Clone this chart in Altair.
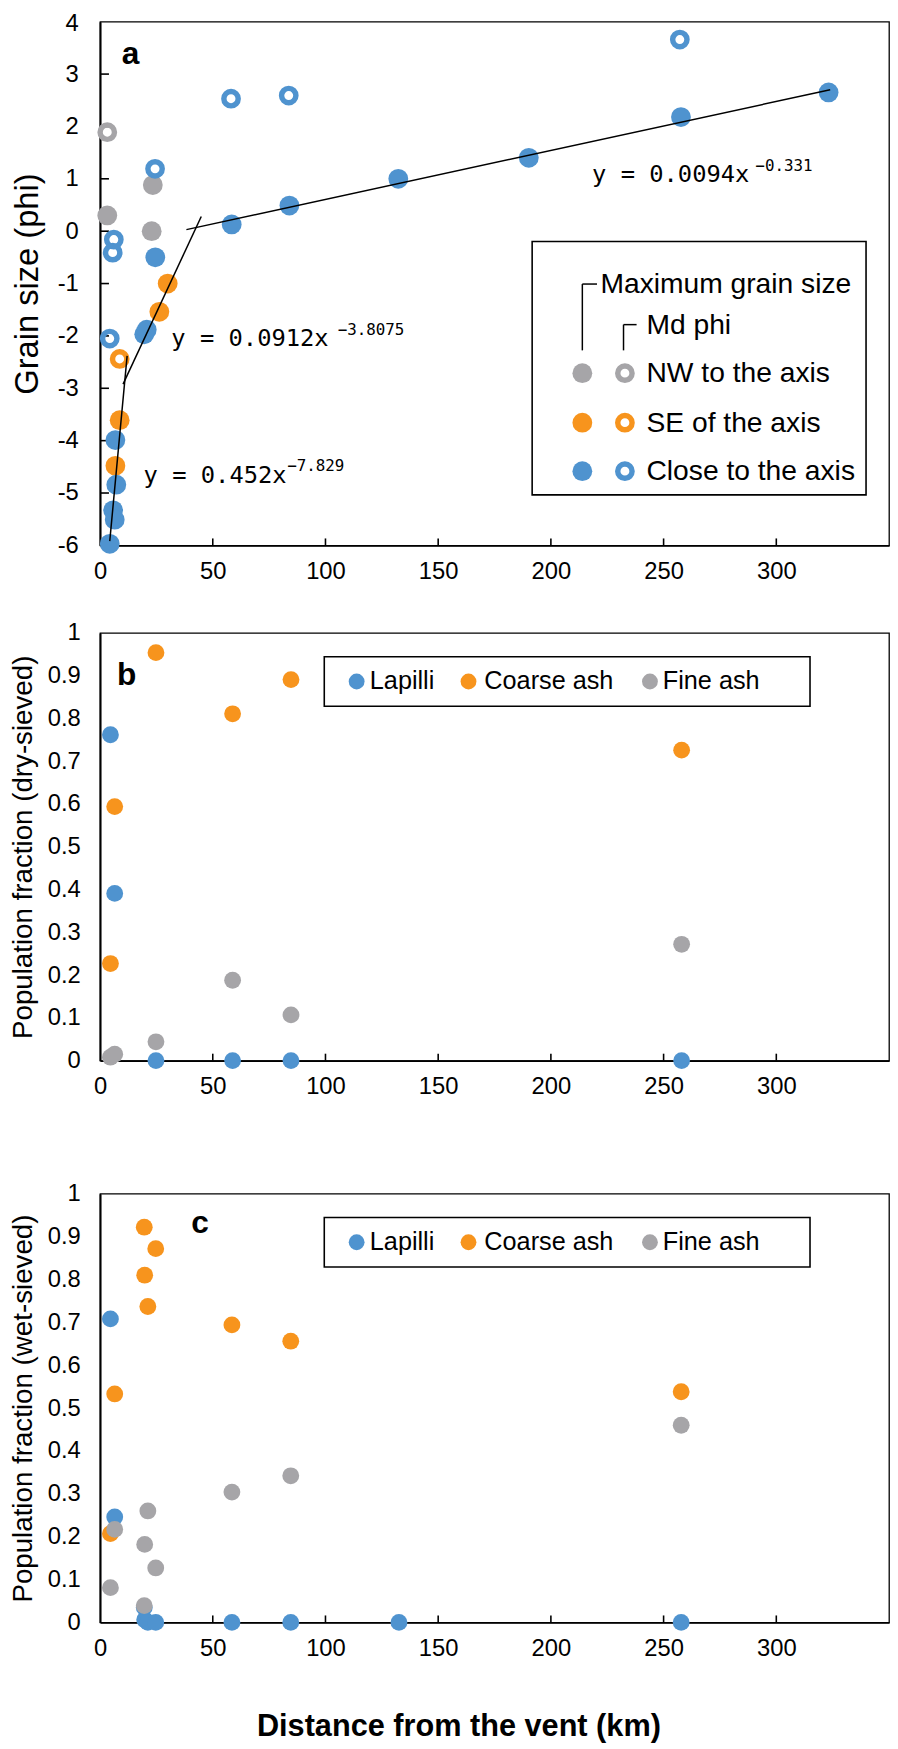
import altair as alt
import pandas as pd

# ---------------- data ----------------
# Panel a: maximum grain size (filled) and Md phi (open) vs distance (km)
max_nw_x = [3.2, 23.4, 22.9]
max_nw_y = [0.30, 0.88, 0.00]
max_se_x = [30.0, 26.3, 8.7, 6.8]
max_se_y = [-1.00, -1.54, -3.61, -4.48]
max_close_x = [24.5, 58.4, 84.0, 132.3, 190.2, 257.7, 323.2, 19.6, 20.7, 6.8, 7.2, 5.8, 6.5, 4.3]
max_close_y = [-0.50, 0.13, 0.49, 1.00, 1.40, 2.18, 2.65, -1.97, -1.88, -3.99, -4.84, -5.33, -5.51, -5.97]
md_nw_x = [3.2]
md_nw_y = [1.89]
md_se_x = [8.7]
md_se_y = [-2.44]
md_close_x = [58.1, 83.7, 24.4, 6.1, 5.6, 4.3, 257.2]
md_close_y = [2.53, 2.59, 1.19, -0.16, -0.41, -2.05, 3.66]

# Fitted trend segments (end points)
trend_seg = ["s1", "s1", "s2", "s2", "s3", "s3"]
trend_x = [4.3, 12.0, 10.2, 44.9, 38.3, 323.9]
trend_y = [-5.92, -2.38, -2.92, 0.28, 0.03, 2.70]

# Panel b: dry-sieved population fractions
b_x = [4.6, 6.5, 24.8, 58.8, 84.7, 258.0]
b_lapilli = [0.762, 0.391, 0.0, 0.0, 0.0, 0.0]
b_coarse = [0.227, 0.594, 0.954, 0.811, 0.891, 0.726]
b_fine = [0.008, 0.015, 0.044, 0.188, 0.107, 0.272]

# Panel c: wet-sieved population fractions
c_x = [4.6, 6.5, 19.6, 19.8, 21.2, 24.7, 58.5, 84.6, 132.6, 257.8]
c_lapilli = [0.708, 0.246, 0.035, 0.006, 0.0, 0.0, 0.0, 0.0, 0.0, 0.0]
c_coarse = [0.207, 0.533, 0.922, 0.810, 0.737, 0.872, 0.694, 0.656, None, 0.538]
c_fine = [0.081, 0.217, 0.039, 0.182, 0.260, 0.127, 0.304, 0.342, None, 0.460]

x_ticks = [0, 50, 100, 150, 200, 250, 300]
a_yticks = [-6, -5, -4, -3, -2, -1, 0, 1, 2, 3, 4]
frac_ticks = [0, 0.1, 0.2, 0.3, 0.4, 0.5, 0.6, 0.7, 0.8, 0.9, 1]

groups = ["NW to the axis", "SE of the axis", "Close to the axis"]
classes = ["Lapilli", "Coarse ash", "Fine ash"]

# ---------------- style ----------------
FONT = "Liberation Sans"
MONO = "DejaVu Sans Mono"
BLUE = "#4F93CF"
ORANGE = "#F7941D"
GREY = "#A6A5A8"
GROUP_COL = {groups[0]: GREY, groups[1]: ORANGE, groups[2]: BLUE}
CLASS_COL = {classes[0]: BLUE, classes[1]: ORANGE, classes[2]: GREY}
W = 797
HA, HB, HC = 529, 432, 433


def one():
    return alt.Chart(pd.DataFrame({"k": [0]}))


def txt(x, y, s, size, font=FONT, weight="normal", baseline="alphabetic"):
    return one().mark_text(text=s, fontSize=size, font=font, fontWeight=weight,
                           align="left", baseline=baseline, color="black").encode(
        x=alt.value(x), y=alt.value(y))


def seg(x1, y1, x2, y2, w=1.5):
    return one().mark_rule(color="black", strokeWidth=w).encode(
        x=alt.value(x1), y=alt.value(y1), x2=alt.value(x2), y2=alt.value(y2))


def box(x1, y1, x2, y2):
    return one().mark_rect(fill="white", stroke="black", strokeWidth=1.6).encode(
        x=alt.value(x1), x2=alt.value(x2), y=alt.value(y1), y2=alt.value(y2))


def dot(x, y, color, size):
    return one().mark_circle(color=color, size=size, opacity=1).encode(
        x=alt.value(x), y=alt.value(y))


def ring(x, y, color, size, sw=5.5):
    return one().mark_point(shape="circle", filled=False, stroke=color, strokeWidth=sw,
                            size=size, opacity=1).encode(x=alt.value(x), y=alt.value(y))


def x_enc(title=None):
    kw = dict(values=x_ticks, labelFlush=False, labelPadding=14, labelFontSize=24)
    if title:
        return alt.X("x:Q", scale=alt.Scale(domain=[0, 350], nice=False),
                     axis=alt.Axis(title=title, titleFontSize=31, titleFontWeight="bold",
                                   titlePadding=52, titleX=362, titleAnchor="start",
                                   titleAlign="center", **kw))
    return alt.X("x:Q", scale=alt.Scale(domain=[0, 350], nice=False), axis=alt.Axis(title=None, **kw))


def y_enc(domain, values, title, tsize, lpad, tpad, top_shift=0):
    extra = {}
    if top_shift:
        extra["labelOffset"] = alt.condition(f"datum.value == {domain[1]}", alt.value(top_shift),
                                             alt.value(0))
    return alt.Y("y:Q", scale=alt.Scale(domain=domain, nice=False),
                 axis=alt.Axis(values=values, title=title, titleFontSize=tsize,
                               titleFontWeight="normal", labelPadding=lpad, titlePadding=tpad,
                               labelExpr="toString(datum.value)", labelFontSize=24, **extra))


# ---------------- panel a ----------------
filled = pd.DataFrame({
    "x": max_nw_x + max_se_x + max_close_x,
    "y": max_nw_y + max_se_y + max_close_y,
    "g": [groups[0]] * len(max_nw_x) + [groups[1]] * len(max_se_x) + [groups[2]] * len(max_close_x),
})
opened = pd.DataFrame({
    "x": md_nw_x + md_se_x + md_close_x,
    "y": md_nw_y + md_se_y + md_close_y,
    "g": [groups[0]] * len(md_nw_x) + [groups[1]] * len(md_se_x) + [groups[2]] * len(md_close_x),
})
filled["col"] = filled["g"].map(GROUP_COL)
opened["col"] = opened["g"].map(GROUP_COL)
trend = pd.DataFrame({"x": trend_x, "y": trend_y, "s": trend_seg})

xa = x_enc()
ya = y_enc([-6, 4], a_yticks, "Grain size (phi)", 33, 22, 13, top_shift=2)

a_xt = alt.Chart(pd.DataFrame({"x": x_ticks[1:]})).mark_rule(color="black", strokeWidth=1.6).encode(
    x=xa, y=alt.value(HA), y2=alt.value(HA - 7))
a_yt = alt.Chart(pd.DataFrame({"y": a_yticks[1:-1]})).mark_rule(color="black", strokeWidth=1.6).encode(
    y=ya, x=alt.value(0), x2=alt.value(9))
a_pts = alt.Chart(filled).mark_circle(size=400, opacity=1).encode(
    x=xa, y=ya, color=alt.Color("col:N", scale=None))
a_rings = alt.Chart(opened).mark_point(shape="circle", filled=False, strokeWidth=5.5, size=210,
                                       opacity=1).encode(x=xa, y=ya, color=alt.Color("col:N", scale=None))
a_trend = alt.Chart(trend).mark_line(color="black", strokeWidth=1.5).encode(x=xa, y=ya, detail="s:N")

a_layers = [a_xt, a_yt, a_pts, a_rings, a_trend,
            txt(22, 43, "a", 32, weight="bold"),
            txt(72, 328, "y = 0.0912x", 24, font=MONO), txt(240, 316, "\u22123.8075", 16, font=MONO),
            txt(44, 466, "y = 0.452x", 24, font=MONO), txt(189, 454, "\u22127.829", 16, font=MONO),
            txt(497, 162, "y = 0.0094x", 24, font=MONO), txt(662, 151, "\u22120.331", 16, font=MONO),
            # legend
            box(436.5, 222, 773.8, 478),
            txt(505.5, 265, "Maximum grain size", 28.5, baseline="middle"),
            seg(487.2, 332, 487.2, 265), seg(487.2, 265, 502, 265),
            txt(552, 306, "Md phi", 28.5, baseline="middle"),
            seg(528.8, 332, 528.8, 306), seg(528.8, 306, 542, 306)]
for i, (col, lab) in enumerate(zip([GREY, ORANGE, BLUE], groups)):
    yy = [355, 405, 454][i]
    a_layers += [dot(487.2, yy, col, 400), ring(530.2, yy, col, 210),
                 txt(552, yy, lab, 28.5, baseline="middle")]

panel_a = alt.layer(*a_layers).properties(width=W, height=HA)


# ---------------- panels b and c ----------------
def frac_panel(xs, lap, coarse, fine, title, letter, lpos, H, xtitle=None):
    df = pd.DataFrame({"x": xs, "Lapilli": lap, "Coarse ash": coarse, "Fine ash": fine})
    long = df.melt("x", var_name="cls", value_name="y").dropna()
    long["o"] = long["cls"].map({c: i for i, c in enumerate(classes)})
    long["col"] = long["cls"].map(CLASS_COL)
    xe = x_enc(xtitle)
    ye = y_enc([0, 1], frac_ticks, title, 28, 20, 10)
    xt = alt.Chart(pd.DataFrame({"x": x_ticks[1:]})).mark_rule(color="black", strokeWidth=1.6).encode(
        x=xe, y=alt.value(H), y2=alt.value(H - 7))
    pts = alt.Chart(long).mark_circle(size=289, opacity=1).encode(
        x=xe, y=ye, order=alt.Order("o:Q"), color=alt.Color("col:N", scale=None))
    layers = [xt, pts, txt(lpos[0], lpos[1], letter, 32, weight="bold"),
              box(226.5, 24, 717.2, 74)]
    for cx, tx, col, lab in [(259.2, 272.5, BLUE, "Lapilli"), (372.2, 388.2, ORANGE, "Coarse ash"),
                             (555.5, 568.5, GREY, "Fine ash")]:
        layers += [dot(cx, 49, col, 256), txt(tx, 49, lab, 25.5, baseline="middle")]
    return alt.layer(*layers).properties(width=W, height=H)


panel_b = frac_panel(b_x, b_lapilli, b_coarse, b_fine, "Population fraction (dry-sieved)", "b",
                     (17, 53), HB)
panel_c = frac_panel(c_x, c_lapilli, c_coarse, c_fine, "Population fraction (wet-sieved)", "c",
                     (92, 40), HC, xtitle="Distance from the vent (km)")

chart = alt.vconcat(alt.vconcat(panel_a, panel_b, spacing=36.5), panel_c, spacing=82).properties(
    padding={"left": 0, "top": -6, "right": 0, "bottom": -6}
).configure_view(stroke="black", strokeWidth=1.3).configure_axis(
    domainColor="black", domainWidth=2, ticks=False, grid=False, labelColor="black",
    titleColor="black", labelFont=FONT, titleFont=FONT)

chart.save("out.html", embed_options={"renderer": "svg", "actions": False})
